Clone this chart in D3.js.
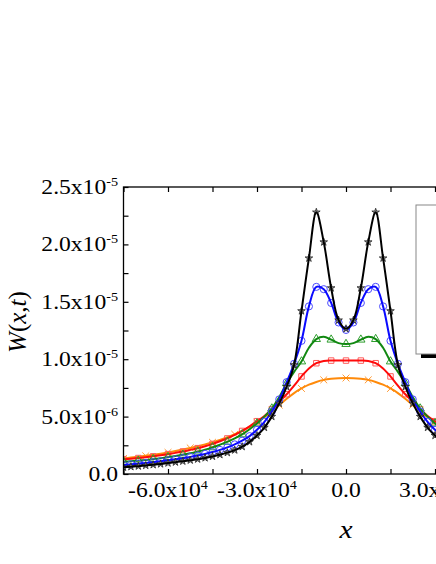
<!DOCTYPE html>
<html>
<head>
<meta charset="utf-8">
<script src="https://cdn.jsdelivr.net/npm/d3@7"></script>
<style>
  html, body { margin: 0; padding: 0; background: #fff; }
  svg { display: block; }
  text { font-family: "Liberation Serif", "Times New Roman", Times, serif; fill: #000; }
</style>
</head>
<body>
<script>
// ---------- data (W in units of 1e-6) ----------
const xs = [-75000,-72500,-70000,-67500,-65000,-62500,-60000,-57500,-55000,-52500,
            -50000,-47500,-45000,-42500,-40000,-37500,-35000,-32500,-30000,-27500,
            -25000,-22500,-20000,-17500,-15000,-12500,-10000,-7500,-5000,-2500,
            0,2500,5000,7500,10000,12500,15000,17500,20000,22500,
            25000,27500,30000,32500,35000,37500,40000,42500,45000,47500,
            50000,52500,55000,57500,60000,62500,65000,67500,70000,72500,75000];

const wBlack = [0.58,0.63,0.68,0.74,0.80,0.87,0.95,1.03,1.11,1.20,
                1.29,1.40,1.53,1.68,1.86,2.08,2.38,2.80,3.35,4.05,
                5.00,6.15,7.60,9.50,14.2,18.8,22.8,20.2,16.2,13.4,
                12.65,13.4,16.2,20.2,22.8,18.8,14.2,9.50,7.60,6.15,
                5.00,4.05,3.35,2.80,2.38,2.08,1.86,1.68,1.53,1.40,
                1.29,1.20,1.11,1.03,0.95,0.87,0.80,0.74,0.68,0.63,0.58];

const wBlue = [0.78,0.84,0.90,0.96,1.03,1.11,1.19,1.28,1.38,1.49,
               1.61,1.75,1.91,2.10,2.32,2.58,2.90,3.30,3.85,4.55,
               5.45,6.50,8.00,9.60,11.6,14.6,16.3,16.1,14.9,13.2,
               12.55,13.2,14.9,16.1,16.3,14.6,11.6,9.60,8.00,6.50,
               5.45,4.55,3.85,3.30,2.90,2.58,2.32,2.10,1.91,1.75,
               1.61,1.49,1.38,1.28,1.19,1.11,1.03,0.96,0.90,0.84,0.78];

const wGreen = [1.06,1.11,1.16,1.22,1.29,1.37,1.46,1.56,1.67,1.80,
                1.95,2.12,2.32,2.55,2.80,3.10,3.45,3.90,4.40,5.00,
                5.70,6.70,7.90,8.90,9.80,11.0,11.75,11.95,11.7,11.4,
                11.32,11.4,11.7,11.95,11.75,11.0,9.80,8.90,7.90,6.70,
                5.70,5.00,4.40,3.90,3.45,3.10,2.80,2.55,2.32,2.12,
                1.95,1.80,1.67,1.56,1.46,1.37,1.29,1.22,1.16,1.11,1.06];

const wRed = [1.28,1.33,1.39,1.46,1.54,1.63,1.73,1.84,1.96,2.10,
              2.25,2.42,2.62,2.85,3.10,3.40,3.75,4.15,4.60,5.05,
              5.65,6.30,6.95,7.70,8.50,9.20,9.65,9.85,9.88,9.88,
              9.88,9.88,9.88,9.85,9.65,9.20,8.50,7.70,6.95,6.30,
              5.65,5.05,4.60,4.15,3.75,3.40,3.10,2.85,2.62,2.42,
              2.25,2.10,1.96,1.84,1.73,1.63,1.54,1.46,1.39,1.33,1.28];

const wOrange = [1.36,1.43,1.50,1.58,1.67,1.77,1.88,2.00,2.13,2.27,
                 2.42,2.58,2.76,2.97,3.20,3.46,3.76,4.10,4.50,4.95,
                 5.45,6.00,6.55,7.05,7.45,7.78,8.02,8.20,8.30,8.35,
                 8.36,8.35,8.30,8.20,8.02,7.78,7.45,7.05,6.55,6.00,
                 5.45,4.95,4.50,4.10,3.76,3.46,3.20,2.97,2.76,2.58,
                 2.42,2.27,2.13,2.00,1.88,1.77,1.67,1.58,1.50,1.43,1.36];

const yTicks = [0, 5, 10, 15, 20, 25];
const yTickMain = ["0.0", "5.0x10", "1.0x10", "1.5x10", "2.0x10", "2.5x10"];
const yTickExp  = ["", "-6", "-5", "-5", "-5", "-5"];
const xTicks = [-60000, -30000, 0, 30000, 60000];
const xTickMain = ["-6.0x10", "-3.0x10", "0.0", "3.0x10", "6.0x10"];
const xTickExp  = ["4", "4", "", "4", "4"];

// ---------- layout ----------
const W = 436, H = 564;
const FONT = "'Liberation Serif', 'Times New Roman', Times, serif";
const svg = d3.select("body").append("svg").attr("width", W).attr("height", H);

const x = d3.scaleLinear().domain([-75000, 75000]).range([123.5, 568.5]);
const y = d3.scaleLinear().domain([0, 25]).range([474, 187]);
const STRETCH = 1.18;

svg.append("defs").append("clipPath").attr("id", "plotclip")
  .append("rect").attr("x", 123.5).attr("y", 187).attr("width", 445).attr("height", 287);

const series = [
  {vals: wOrange, line: "#ff8a0a", mk: "#ff9a35", sym: d3.symbolTimes,    size: 32, step: 3, fill: "none"},
  {vals: wRed,    line: "#ff0a0a", mk: "#ff5c5c", sym: d3.symbolSquare,   size: 30, step: 2, fill: "none"},
  {vals: wGreen,  line: "#118811", mk: "#2e9e2e", sym: d3.symbolTriangle, size: 30, step: 2, fill: "none"},
  {vals: wBlue,   line: "#0a0aff", mk: "#4a4aff", sym: d3.symbolCircle,   size: 40, step: 1, fill: "none"},
  {vals: wBlack,  line: "#000000", mk: "#222222", sym: d3.symbolStar,     size: 18, step: 1, fill: "#999"}
];

const plot = svg.append("g").attr("clip-path", "url(#plotclip)");
const lineGen = d3.line().x(d => x(d[0])).y(d => y(d[1])).curve(d3.curveCatmullRom.alpha(0.5));

series.forEach(s => {
  const pts = xs.map((xv, i) => [xv, s.vals[i]]);
  const mpts = pts.filter((p, i) => i % s.step === 0);
  plot.append("g").selectAll("path").data(mpts).join("path")
    .attr("transform", d => `translate(${x(d[0])},${y(d[1])})`)
    .attr("d", d3.symbol().type(s.sym).size(s.size))
    .attr("fill", s.fill)
    .attr("stroke", s.mk)
    .attr("stroke-width", s.sym === d3.symbolStar ? 0.8 : 1);
  plot.append("path").datum(pts)
    .attr("d", lineGen)
    .attr("fill", "none")
    .attr("stroke", s.line)
    .attr("stroke-width", 2);
});

// ---------- axes ----------
const minorX = d3.range(-75000, 75001, 15000);
const minorY = d3.range(0, 25.01, 2.5);

function styleAxis(g) {
  g.select(".domain").remove();
  g.selectAll("line").attr("stroke", "#000").attr("stroke-width", 1.2);
  g.selectAll("text").remove();
}
svg.append("g").attr("transform", "translate(0,474)")
  .call(d3.axisBottom(x).tickValues(minorX).tickSize(-5).tickSizeOuter(0)).call(styleAxis);
svg.append("g").attr("transform", "translate(0,187)")
  .call(d3.axisTop(x).tickValues(minorX).tickSize(-5).tickSizeOuter(0)).call(styleAxis);
svg.append("g").attr("transform", "translate(123.5,0)")
  .call(d3.axisLeft(y).tickValues(minorY).tickSize(-5).tickSizeOuter(0)).call(styleAxis);

svg.append("rect").attr("x", 123.5).attr("y", 187).attr("width", 445).attr("height", 287)
  .attr("fill", "none").attr("stroke", "#000").attr("stroke-width", 1.3);

// tick labels
yTicks.forEach((v, i) => {
  const t = svg.append("text")
    .attr("transform", `translate(118,${y(v) + 7}) scale(${STRETCH},1)`)
    .attr("text-anchor", "end").attr("font-size", 20).attr("font-family", FONT);
  t.append("tspan").text(yTickMain[i]);
  if (yTickExp[i]) t.append("tspan").attr("font-size", 12).attr("dy", -8).text(yTickExp[i]);
});
xTicks.forEach((v, i) => {
  const t = svg.append("text")
    .attr("transform", `translate(${x(v)},497) scale(${STRETCH},1)`)
    .attr("text-anchor", "middle").attr("font-size", 20).attr("font-family", FONT);
  t.append("tspan").text(xTickMain[i]);
  if (xTickExp[i]) t.append("tspan").attr("font-size", 12).attr("dy", -8).text(xTickExp[i]);
});

// axis titles
svg.append("text")
  .attr("transform", `translate(346,538) scale(${STRETCH},1)`)
  .attr("text-anchor", "middle").attr("font-size", 25).attr("font-style", "italic")
  .attr("font-family", FONT).text("x");

const yt = svg.append("text")
  .attr("transform", "translate(26,322) rotate(-90)")
  .attr("text-anchor", "middle").attr("font-size", 25).attr("font-family", FONT);
yt.append("tspan").attr("font-style", "italic").text("W");
yt.append("tspan").text("(");
yt.append("tspan").attr("font-style", "italic").text("x");
yt.append("tspan").text(",");
yt.append("tspan").attr("font-style", "italic").text("t");
yt.append("tspan").text(")");

// legend frame (content lies outside the visible area)
svg.append("rect").attr("x", 421).attr("y", 209).attr("width", 200).attr("height", 149).attr("fill", "#000");
svg.append("rect").attr("x", 416).attr("y", 205).attr("width", 200).attr("height", 149)
  .attr("fill", "#fff").attr("stroke", "#888").attr("stroke-width", 1);
</script>
</body>
</html>
